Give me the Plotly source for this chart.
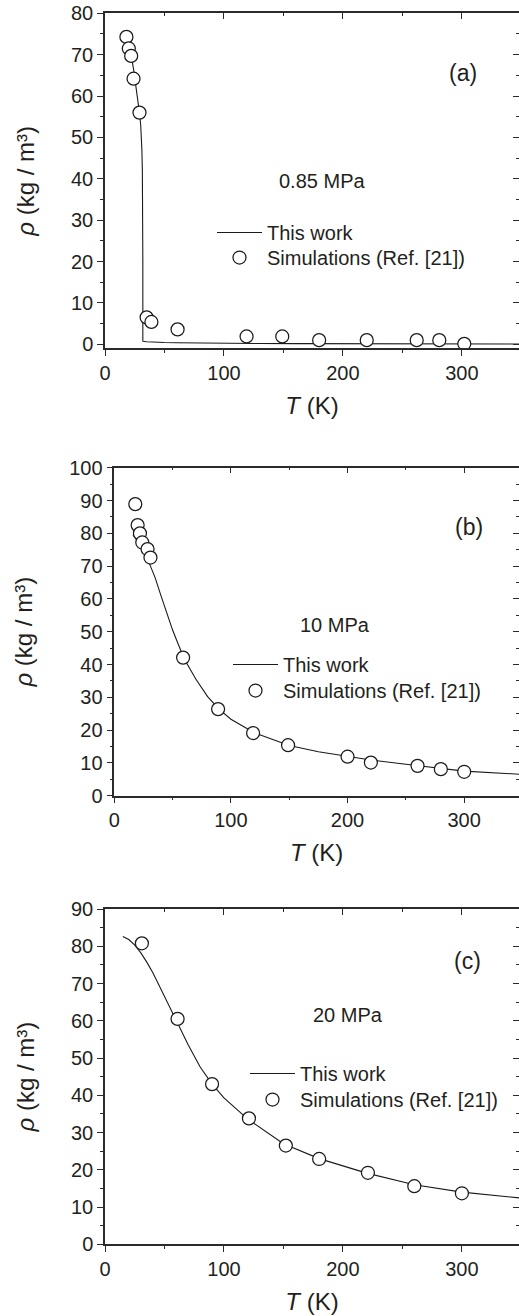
import plotly.graph_objects as go

W, H = 519, 1316
FONT = "Liberation Sans, Arial, Helvetica, sans-serif"
INK = "#231f20"

# ---------------- data ----------------
# (a) 0.85 MPa
T_sim_a = [18, 20, 22, 24, 29, 35, 39, 61, 119, 149, 180, 220, 262, 281, 302]
rho_sim_a = [74.3, 71.5, 69.7, 64.2, 56.0, 6.5, 5.4, 3.6, 1.9, 1.9, 1.0, 1.0, 1.0, 1.0, 0.1]
T_fit_a = [18, 20, 22, 24, 26, 28, 29, 30, 30.5, 31, 31.4, 31.7, 31.8, 31.8, 32, 35, 40, 50,
           60, 80, 100, 130, 160, 200, 250, 300, 350]
rho_fit_a = [74.5, 72.2, 69.9, 66.5, 62.5, 58.0, 55.9, 53.0, 50.8, 47.0, 42.0, 35.0, 20.0, 0.75,
             0.72, 0.62, 0.52, 0.42, 0.36, 0.28, 0.23, 0.18, 0.15, 0.12, 0.10, 0.08, 0.07]

# (b) 10 MPa
T_sim_b = [18, 20, 22, 24, 28.5, 31, 59, 89, 119, 149, 200, 220, 260, 280, 300]
rho_sim_b = [88.9, 82.5, 80.0, 77.2, 75.2, 72.6, 42.1, 26.4, 19.1, 15.4, 11.9, 10.1, 9.1, 8.1, 7.3]
T_fit_b = [16, 18, 20, 22, 25, 28, 31, 35, 40, 45, 50, 55, 60, 70, 80, 90, 100, 120, 150, 175,
           200, 220, 250, 280, 300, 350]
rho_fit_b = [79.5, 78.5, 77.5, 76.5, 74.5, 72.5, 70.0, 66.5, 61.0, 55.5, 50.5, 46.0, 41.7, 35.5,
             30.2, 26.3, 23.3, 19.2, 15.3, 13.4, 11.9, 10.9, 9.6, 8.3, 7.5, 6.5]

# (c) 20 MPa
T_sim_c = [31, 61, 90, 121, 152, 180, 221, 260, 300]
rho_sim_c = [80.8, 60.5, 43.0, 33.8, 26.5, 22.9, 19.2, 15.6, 13.7]
T_fit_c = [15, 20, 25, 30, 35, 40, 45, 50, 60, 70, 80, 90, 100, 120, 150, 180, 220, 260, 300, 350]
rho_fit_c = [82.6, 81.8, 80.3, 78.3, 75.8, 73.0, 69.8, 66.6, 60.3, 53.5, 47.6, 43.0, 39.3, 33.6,
             27.0, 23.0, 19.1, 16.0, 14.0, 12.4]

panel_labels = ["(a)", "(b)", "(c)"]
pressure_labels = ["0.85 MPa", "10 MPa", "20 MPa"]
x_tickvals = [0, 100, 200, 300]
y_tickvals = [list(range(0, 81, 10)), list(range(0, 101, 10)), list(range(0, 91, 10))]
legend_names = ["This work", "Simulations (Ref. [21])"]

X_TITLE = '<span style="font-style:italic;font-size:24px">T</span> (K)'
Y_TITLE = '<span style="font-style:italic;font-size:24px">ρ</span> (kg / m\u00b3)'

# ---------------- layout geometry (pixels) ----------------
def px_x(p):
    return p / W

def px_y(p):
    return 1 - p / H

panels = [
    dict(T_sim=T_sim_a, r_sim=rho_sim_a, T_fit=T_fit_a, r_fit=rho_fit_a,
         left=105, top=13.3, bottom=348.3, xr=[0, 348], yr=[-0.97, 80],
         lab_xy=(301, 65.5), p_xy=(182, 39.5), leg_x=212, rows=(232, 257)),
    dict(T_sim=T_sim_b, r_sim=rho_sim_b, T_fit=T_fit_b, r_fit=rho_fit_b,
         left=114.3, top=467.7, bottom=795.7, xr=[0, 347], yr=[0, 100],
         lab_xy=(304, 82), p_xy=(189, 52), leg_x=228, rows=(664, 690)),
    dict(T_sim=T_sim_c, r_sim=rho_sim_c, T_fit=T_fit_c, r_fit=rho_fit_c,
         left=105, top=909, bottom=1244.3, xr=[0, 348], yr=[0, 90],
         lab_xy=(305, 76), p_xy=(204, 61.5), leg_x=245, rows=(1073, 1099)),
]

fig = go.Figure()
layout = dict(
    width=W, height=H,
    margin=dict(l=0, r=0, t=0, b=0),
    paper_bgcolor="white", plot_bgcolor="white",
    font=dict(family=FONT, color=INK, size=20),
    showlegend=True,
    annotations=[],
)

tickfont = dict(family=FONT, size=20, color=INK)
AX = "#2b2b2b"
for i, p in enumerate(panels):
    n = i + 1
    xa = "x" if n == 1 else f"x{n}"
    ya = "y" if n == 1 else f"y{n}"
    xkey = "xaxis" if n == 1 else f"xaxis{n}"
    ykey = "yaxis" if n == 1 else f"yaxis{n}"
    lg_line = "legend" if n == 1 else f"legend{2 * n - 1}"
    lg_mark = f"legend{2 * n}"

    fig.add_trace(go.Scatter(
        x=p["T_fit"], y=p["r_fit"], mode="lines", name=legend_names[0],
        line=dict(color="#1a1a1a", width=1.1), xaxis=xa, yaxis=ya, legend=lg_line,
        showlegend=True, hoverinfo="skip"))
    fig.add_trace(go.Scatter(
        x=p["T_sim"], y=p["r_sim"], mode="markers", name=legend_names[1],
        marker=dict(symbol="circle", size=13, color="white",
                    line=dict(color="#1a1a1a", width=1.25)),
        xaxis=xa, yaxis=ya, legend=lg_mark, showlegend=True, hoverinfo="skip"))

    xdom = [px_x(p["left"]), 1.0]
    ydom = [px_y(p["bottom"]), px_y(p["top"])]

    layout[xkey] = dict(
        domain=xdom, range=p["xr"], anchor=ya, showgrid=False, zeroline=False,
        showline=True, linecolor=AX, linewidth=1.5,
        tickmode="array", tickvals=x_tickvals, ticks="outside", ticklen=6,
        tickwidth=1.3, tickcolor=AX, tickfont=tickfont,
        minor=dict(dtick=50, tick0=0, ticks="outside", ticklen=3, tickwidth=1.1,
                   tickcolor=AX, showgrid=False),
        title=dict(text=X_TITLE, font=dict(family=FONT, size=24, color=INK),
                   standoff=14),
        automargin=False,
    )
    layout[ykey] = dict(
        domain=ydom, range=p["yr"], anchor=xa, showgrid=False, zeroline=False,
        showline=True, linecolor=AX, linewidth=1.5,
        tickmode="array", tickvals=y_tickvals[i], ticks="outside", ticklen=6,
        tickwidth=1.3, tickcolor=AX, tickfont=tickfont,
        minor=dict(dtick=5, tick0=0, ticks="outside", ticklen=3, tickwidth=1.1,
                   tickcolor=AX, showgrid=False),
        title=dict(text=Y_TITLE, font=dict(family=FONT, size=24, color=INK), standoff=30),
        automargin=False,
    )
    # top mirrored axis (ticks inward)
    layout[f"xaxis{n + 3}"] = dict(
        domain=xdom, range=p["xr"], anchor=ya, overlaying=xa, side="top",
        showgrid=False, zeroline=False, showline=True, linecolor=AX, linewidth=1.5,
        tickmode="array", tickvals=x_tickvals, ticks="inside", ticklen=6,
        tickwidth=1.3, tickcolor=AX, showticklabels=False,
        minor=dict(dtick=50, tick0=0, ticks="inside", ticklen=3, tickwidth=1.1,
                   tickcolor=AX, showgrid=False),
    )
    # right mirrored axis (ticks inward)
    layout[f"yaxis{n + 3}"] = dict(
        domain=ydom, range=p["yr"], anchor=xa, overlaying=ya, side="right",
        showgrid=False, zeroline=False, showline=False,
        tickmode="array", tickvals=y_tickvals[i], ticks="inside", ticklen=6,
        tickwidth=1.3, tickcolor=AX, showticklabels=False,
        minor=dict(dtick=5, tick0=0, ticks="inside", ticklen=3, tickwidth=1.1,
                   tickcolor=AX, showgrid=False),
    )

    for lg, row_y in ((lg_line, p["rows"][0]), (lg_mark, p["rows"][1])):
        layout[lg] = dict(
            x=px_x(p["leg_x"]), y=px_y(row_y - 19), xanchor="left", yanchor="top",
            xref="paper", yref="paper", bgcolor="rgba(0,0,0,0)", borderwidth=0,
            font=dict(family=FONT, size=20, color=INK), itemwidth=45,
            tracegroupgap=0, traceorder="normal", visible=True,
        )

    layout["annotations"].append(dict(
        x=p["lab_xy"][0], y=p["lab_xy"][1], xref=xa, yref=ya, text=panel_labels[i],
        showarrow=False, font=dict(family=FONT, size=23, color=INK),
        xanchor="center", yanchor="middle"))
    layout["annotations"].append(dict(
        x=p["p_xy"][0], y=p["p_xy"][1], xref=xa, yref=ya, text=pressure_labels[i],
        showarrow=False, font=dict(family=FONT, size=20, color=INK),
        xanchor="center", yanchor="middle"))

    # empty traces that register the mirror axes
    fig.add_trace(go.Scatter(x=[], y=[], xaxis=f"x{n + 3}", yaxis=ya, showlegend=False,
                             hoverinfo="skip"))
    fig.add_trace(go.Scatter(x=[], y=[], xaxis=xa, yaxis=f"y{n + 3}", showlegend=False,
                             hoverinfo="skip"))

fig.update_layout(**layout)
fig.write_html("out.html")
